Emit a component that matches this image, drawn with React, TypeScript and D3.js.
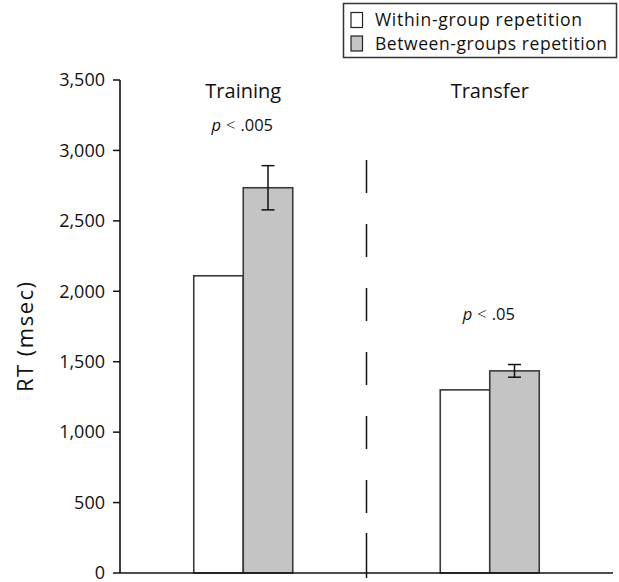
import React from "react";
import * as d3 from "d3";

const groups = ["Training", "Transfer"];
const seriesNames = ["Within-group repetition", "Between-groups repetition"];
const withinValues = [2110, 1300];
const betweenValues = [2735, 1435];
const betweenErrors = [157, 45];
const pLabels = ["p < .005", "p < .05"];
const pLabelValues = [3135, 1797];
const yTicks = [0, 500, 1000, 1500, 2000, 2500, 3000, 3500];

const W = 619;
const H = 582;
const FONT = "'Open Sans', 'DejaVu Sans', sans-serif";

export default function App() {
  const y = d3.scaleLinear().domain([0, 3500]).range([573, 80]);
  const x = d3.scalePoint<string>().domain(groups).range([120, 613]).padding(0.5);
  const inner = d3.scaleBand<string>().domain(seriesNames).range([-49.5, 49.5]).padding(0);
  const fmt = d3.format(",");
  const fills = ["#ffffff", "#c3c4c3"];
  const stroke = "#3a3a3a";
  const divX = (x(groups[0])! + x(groups[1])!) / 2;
  const legendLengths = [207, 232];

  return (
    <svg
      width={W}
      height={H}
      style={{ position: "absolute", left: 0, top: 0, background: "#fff" }}
      fontFamily={FONT}
    >
      {/* bars */}
      {groups.map((g, i) => {
        const vals = [withinValues[i], betweenValues[i]];
        return (
          <g key={g}>
            {seriesNames.map((s, j) => (
              <rect
                key={s}
                x={x(g)! + inner(s)!}
                y={y(vals[j])}
                width={inner.bandwidth()}
                height={y(0) - y(vals[j])}
                fill={fills[j]}
                stroke={stroke}
                strokeWidth={1.6}
              />
            ))}
            {(() => {
              const cx = x(g)! + inner(seriesNames[1])! + inner.bandwidth() / 2;
              const top = y(betweenValues[i] + betweenErrors[i]);
              const bot = y(betweenValues[i] - betweenErrors[i]);
              return (
                <g stroke="#111" strokeWidth={1.5}>
                  <line x1={cx} x2={cx} y1={top} y2={bot} />
                  <line x1={cx - 6.5} x2={cx + 6.5} y1={top} y2={top} />
                  <line x1={cx - 6.5} x2={cx + 6.5} y1={bot} y2={bot} />
                </g>
              );
            })()}
            <text
              x={x(g)!}
              y={97.5}
              textAnchor="middle"
              fontSize={20}
              fill="#111"
            >
              {g}
            </text>
            <text
              x={x(g)! - 1}
              y={y(pLabelValues[i])}
              textAnchor="middle"
              fontSize={16.5}
              fill="#111"
            >
              <tspan fontStyle="italic">p</tspan>
              <tspan dx={5} fontWeight={300}>{"<"}</tspan>
              <tspan dx={5}>{pLabels[i].split("<")[1].trim()}</tspan>
            </text>
          </g>
        );
      })}

      {/* divider */}
      <line x1={divX} x2={divX} y1={160} y2={528} stroke="#111" strokeWidth={1.5} strokeDasharray="33,31" />
      <line x1={divX} x2={divX} y1={533} y2={578} stroke="#111" strokeWidth={1.5} />

      {/* x axis */}
      <line x1={120} x2={613} y1={y(0)} y2={y(0)} stroke="#111" strokeWidth={1.6} />

      {/* y axis */}
      <line x1={120} x2={120} y1={y(3500)} y2={y(0)} stroke="#111" strokeWidth={1.6} />
      {yTicks.map((t) => (
        <g key={t}>
          <line x1={113} x2={120} y1={y(t)} y2={y(t)} stroke="#111" strokeWidth={1.5} />
          <text x={105} y={y(t)} dy="0.35em" textAnchor="end" fontSize={18} fill="#111">
            {fmt(t)}
          </text>
        </g>
      ))}
      <text
        transform={`translate(33, 337) rotate(-90)`}
        textAnchor="middle"
        fontSize={22}
        textLength={110}
        lengthAdjust="spacing"
        fill="#111"
      >
        RT (msec)
      </text>

      {/* legend */}
      <rect x={343.5} y={3.5} width={273} height={54} fill="#fff" stroke="#333" strokeWidth={1.5} />
      {seriesNames.map((s, j) => (
        <g key={s}>
          <rect
            x={351}
            y={12.5 + j * 23.5}
            width={11.5}
            height={15}
            fill={fills[j]}
            stroke="#222"
            strokeWidth={1.2}
          />
          <text
            x={375}
            y={26 + j * 24}
            fontSize={17.5}
            textLength={legendLengths[j]}
            lengthAdjust="spacing"
            fill="#111"
          >
            {s}
          </text>
        </g>
      ))}
    </svg>
  );
}
